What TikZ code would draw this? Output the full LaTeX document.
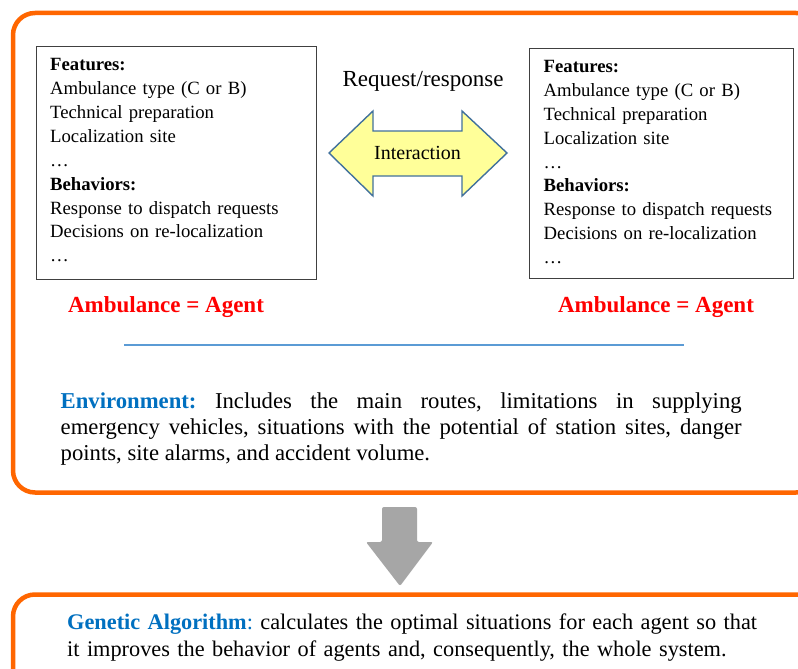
\documentclass[tikz,border=0pt]{standalone}
\usepackage{fontspec}
\setmainfont{Liberation Serif}
\frenchspacing
\definecolor{orng}{HTML}{FF6600}
\definecolor{envblue}{HTML}{0070C0}
\definecolor{lineblue}{HTML}{5B9BD5}
\definecolor{arrowedge}{HTML}{41719C}
\definecolor{arrowfill}{HTML}{FFFF99}
\definecolor{downgray}{HTML}{A6A6A6}
\begin{document}
\frenchspacing
\begin{tikzpicture}[x=1pt,y=-1pt,
  panel/.style={draw=orng, line width=4.5pt, rounded corners=22pt},
  featbox/.style={draw=black!75, line width=0.9pt, inner sep=0pt, anchor=north west},
  feattext/.style={anchor=base west, inner sep=0pt, text width=260pt, align=left,
    font=\fontsize{18.7}{23.9}\selectfont},
  agentlbl/.style={anchor=base, inner sep=0pt, text=red,
    font=\fontsize{23}{27}\selectfont\bfseries},
  bodytext/.style={anchor=base west, inner sep=0pt, font=\fontsize{22.7}{26.3}\selectfont}
]
\path[use as bounding box, clip] (0,0) rectangle (798,669);
\fill[white] (0,0) rectangle (798,669);

% panels
\draw[panel] (13,13) rectangle (818,492.5);
\draw[panel] (13,594.5) rectangle (818,720);

% feature boxes
\node[featbox, minimum width=280pt, minimum height=232.5pt] (boxL) at (35.5,46) {};
\node[featbox, minimum width=264pt, minimum height=230pt] (boxR) at (529,48) {};

\node[feattext] (txtL) at (50,70.7) {\textbf{Features:}\\Ambulance type (C or B)\\Technical preparation\\Localization site\\…\\\textbf{Behaviors:}\\Response to dispatch requests\\Decisions on re-localization\\…};
\node[feattext] (txtR) at (543.5,72.5) {\textbf{Features:}\\Ambulance type (C or B)\\Technical preparation\\Localization site\\…\\\textbf{Behaviors:}\\Response to dispatch requests\\Decisions on re-localization\\…};

% interaction
\node[anchor=base, inner sep=0pt, font=\fontsize{23}{27}\selectfont] (req) at (423,87) {Request/response};
\draw[arrowedge, fill=arrowfill, line width=1.4pt, line join=miter]
  (329,153) -- (373,111) -- (373,131) -- (462,131) -- (462,111) -- (507,153)
  -- (462,196) -- (462,176) -- (373,176) -- (373,196) -- cycle;
\node[anchor=base, inner sep=0pt, font=\fontsize{20}{24}\selectfont] (inter) at (417.5,159.5) {Interaction};

% agent labels
\node[agentlbl] (agL) at (166,312.3) {Ambulance = Agent};
\node[agentlbl] (agR) at (656,312.3) {Ambulance = Agent};

% separator
\draw[lineblue, line width=1.3pt] (124,345) -- (684,345);

% environment
\node[bodytext, text width=681pt, align=justify] (env) at (60.5,408)
  {\textcolor{envblue}{\textbf{Environment:}} Includes the main routes, limitations in supplying\linebreak emergency vehicles, situations with the potential of station sites, danger\linebreak points, site alarms, and accident volume.};

% down arrow
\fill[downgray, rounded corners=2pt] (382,507) -- (417,507) -- (417,542) -- (433,542)
  -- (400,586) -- (366,542) -- (382,542) -- cycle;

% genetic algorithm
\node[bodytext, text width=720pt, align=left, font=\fontsize{22.3}{27}\selectfont] (ga) at (67,629.5)
  {\textcolor{envblue}{\textbf{Genetic Algorithm}:} calculates the optimal situations for each agent so that\\it improves the behavior of agents and, consequently, the whole system.};
\end{tikzpicture}
\end{document}
